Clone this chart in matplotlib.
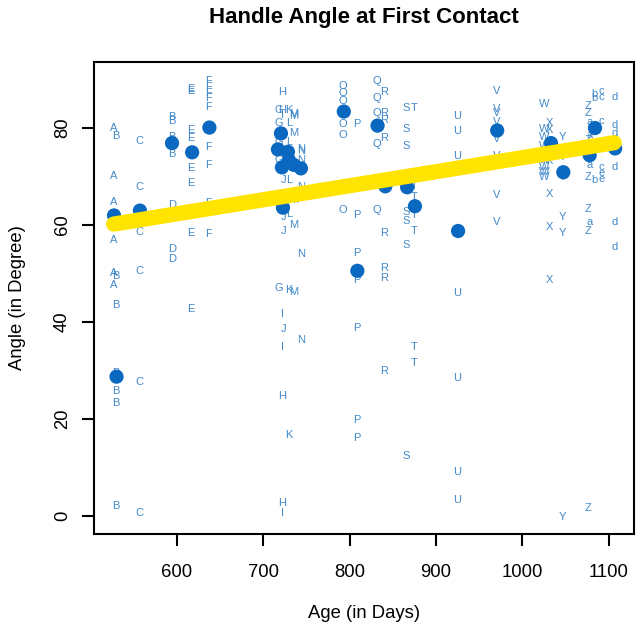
import numpy as np
import matplotlib
matplotlib.use("Agg")
import matplotlib.pyplot as plt

plt.rcParams['font.family'] = ['Liberation Sans', 'DejaVu Sans']

# trials per subject: letter, age (days), handle angles (degree)
letters = ["A", "B", "C", "B", "D", "E", "F", "G", "H", "I", "J", "K", "L", "M", "N",
           "O", "P", "Q", "R", "S", "T", "U", "V", "W", "X", "Y", "Z", "a", "b", "c", "d", "e"]
ages = [526.7, 529.5, 556.7, 594.3, 594.3, 616.5, 636.8, 718.1, 721.9, 722.4, 723.3, 730.0,
        730.5, 735.2, 743.3, 792.5, 808.6, 832.0, 840.5, 866.0, 874.5, 925.0, 970.5, 1025.5,
        1032.0, 1046.5, 1076.5, 1078.0, 1083.5, 1091.5, 1106.5, 1092.5]
angles = [
    [80.0, 70.0, 64.6, 62.0, 56.9, 50.0, 47.6],
    [78.2, 49.4, 43.5, 29.5, 25.8, 23.2, 2.0],
    [77.2, 67.7, 62.9, 58.4, 50.4, 27.7, 0.7],
    [82.1, 81.4, 78.0, 74.6],
    [76.8, 64.0, 55.0, 52.9],
    [87.9, 87.6, 79.4, 77.8, 74.9, 71.7, 68.6, 58.2, 42.7],
    [89.5, 88.3, 87.2, 86.1, 84.3, 80.0, 75.9, 72.3, 64.4, 58.0],
    [83.6, 80.9, 77.1, 75.5, 73.3, 47.0],
    [87.4, 83.6, 78.8, 24.7, 2.7],
    [82.5, 71.8, 66.4, 41.6, 34.8, 0.7],
    [69.2, 63.5, 61.5, 58.8, 38.6],
    [83.6, 73.3, 66.0, 46.6, 16.7],
    [80.9, 77.1, 75.0, 69.2, 65.2, 62.3],
    [82.8, 82.4, 78.8, 72.3, 65.0, 60.0, 46.2],
    [75.6, 75.2, 73.3, 71.6, 67.8, 54.0, 36.3],
    [88.6, 87.2, 85.4, 83.3, 80.8, 78.4, 63.1],
    [80.7, 62.0, 54.1, 50.4, 48.7, 38.7, 19.8, 16.1],
    [89.6, 86.1, 83.0, 80.4, 76.7, 63.1],
    [87.3, 83.0, 81.5, 77.8, 68.1, 58.2, 51.1, 49.0, 29.8],
    [84.0, 79.6, 76.3, 67.7, 62.7, 60.7, 55.8, 12.4],
    [84.0, 67.9, 65.7, 63.8, 62.0, 58.7, 34.8, 31.5],
    [82.3, 79.2, 74.2, 71.0, 58.7, 46.0, 28.4, 9.0, 3.4],
    [87.6, 83.8, 83.0, 81.2, 79.3, 77.6, 74.1, 66.2, 60.5],
    [84.9, 79.7, 78.1, 76.1, 73.3, 71.8, 70.9, 69.8],
    [81.0, 79.5, 76.8, 73.2, 66.4, 59.5, 48.6],
    [78.0, 73.9, 70.8, 69.8, 61.6, 58.2, -0.2],
    [84.5, 83.0, 77.5, 74.3, 69.9, 63.3, 58.8, 1.6],
    [81.2, 78.5, 76.0, 72.3, 60.5],
    [87.0, 86.1, 79.9, 69.3],
    [87.5, 86.2, 81.4, 76.9, 71.8],
    [86.3, 80.5, 78.8, 77.6, 75.7, 71.8, 60.6, 55.5],
    [70.6, 69.4],
]

# subject summary points (blue dots)
dot_age = [527.1, 530.0, 557.1, 594.3, 617.6, 637.6, 717.0, 720.5, 721.6, 722.8, 728.6,
           729.7, 735.5, 743.6, 793.3, 809.0, 832.4, 841.4, 866.7, 875.7, 925.7, 971.0,
           1033.3, 1047.6, 1078.1, 1084.3, 1107.6]
dot_angle = [61.9, 28.7, 62.9, 76.8, 74.9, 80.0, 75.5, 78.8, 71.8, 63.5, 75.0,
             73.3, 72.3, 71.6, 83.3, 50.5, 80.4, 67.9, 67.7, 63.8, 58.7, 79.4,
             76.8, 70.8, 74.3, 79.9, 75.7]

# regression line
fit_intercept = 44.9
fit_slope = 0.0289

fig = plt.figure(figsize=(6.43, 6.32), dpi=100)
ax = fig.add_axes([94 / 643, 1 - 534 / 632, 540 / 643, 472 / 632])

for lab, x, vals in zip(letters, ages, angles):
    for v in vals:
        ax.text(x, v, lab, color="#4188ca", fontsize=8, ha="center", va="center", zorder=2)

ax.scatter(dot_age, dot_angle, s=105, color="#0a68c0", edgecolors="none", zorder=3)

xs = np.array([min(ages), max(ages)])
ax.plot(xs, fit_intercept + fit_slope * xs, color="#ffe400", lw=11,
        solid_capstyle="round", zorder=4)

ax.set_xlim(503.9, 1129.5)
ax.set_ylim(-3.7, 93.5)
ax.set_xticks([600, 700, 800, 900, 1000, 1100])
ax.set_yticks([0, 20, 40, 60, 80])
for lbl in ax.get_yticklabels():
    lbl.set_rotation(90)
    lbl.set_va("center")
ax.tick_params(axis="both", labelsize=13.3, length=8.5, width=1.5)
ax.tick_params(axis="x", pad=13)
ax.tick_params(axis="y", pad=8)
for sp in ax.spines.values():
    sp.set_linewidth(1.5)

fig.text(364 / 643, 1 - 17 / 632, "Handle Angle at First Contact", fontsize=16,
         fontweight="bold", ha="center", va="center")
fig.text(364 / 643, 1 - 613 / 632, "Age (in Days)", fontsize=13.3, ha="center", va="center")
fig.text(18 / 643, 1 - 298 / 632, "Angle (in Degree)", fontsize=13.3, ha="center",
         va="center", rotation=90)

fig.savefig("out.png", dpi=100)
